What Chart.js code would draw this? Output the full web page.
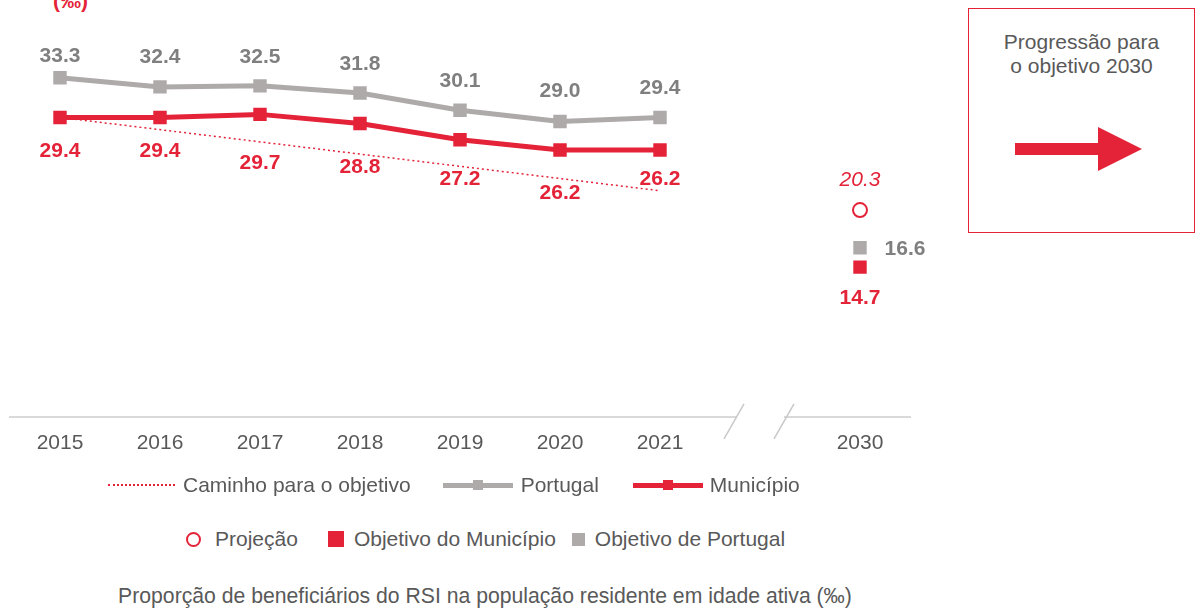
<!DOCTYPE html>
<html>
<head>
<meta charset="utf-8">
<script src="https://cdn.jsdelivr.net/npm/chart.js@4.4.1/dist/chart.umd.min.js"></script>
<style>
  body { margin: 0; width: 1196px; height: 608px; position: relative; overflow: hidden; background: #fff;
         font-family: "Liberation Sans", Arial, sans-serif; color: #595959; }
  #chart { position: absolute; left: 0; top: 0; }
  .title { position: absolute; left: 53px; top: -11px; color: #E42339; font-weight: bold; font-size: 21px; }
  .box { position: absolute; left: 968px; top: 8px; width: 225px; height: 223px; border: 1.5px solid #E42339; }
  .box .txt { position: absolute; top: 21px; left: 0; width: 100%; text-align: center; font-size: 21px; line-height: 24px; }
  .box svg { position: absolute; left: 0; top: 0; }
  .row { position: absolute; display: flex; align-items: center; font-size: 21px; white-space: nowrap; }
  .sw { display: inline-block; position: relative; }
  .caption { position: absolute; left: 0; width: 970px; top: 584px; text-align: center; font-size: 21.2px; }
</style>
</head>
<body>
<div class="title">(‰)</div>
<canvas id="chart" width="940" height="478"></canvas>

<div class="box">
  <div class="txt">Progressão para<br>o objetivo 2030</div>
  <svg width="226" height="224">
    <polygon points="46,134 129,134 129,118 173,140 129,162 129,146 46,146" fill="#E42339"/>
  </svg>
</div>

<div class="row" style="left:108px; top:473px;">
  <span class="sw" style="width:67px;height:0;border-top:2px dotted #E42339;margin-right:8px;"></span>
  <span>Caminho para o objetivo</span>
  <span class="sw" style="width:70px;height:5px;background:#AEAAAA;margin:0 8px 0 32px;">
    <span style="position:absolute;left:30px;top:-3px;width:10px;height:10px;background:#AEAAAA;"></span></span>
  <span>Portugal</span>
  <span class="sw" style="width:70px;height:5px;background:#E42339;margin:0 7px 0 34px;">
    <span style="position:absolute;left:30px;top:-3px;width:10px;height:10px;background:#E42339;"></span></span>
  <span>Município</span>
</div>

<div class="row" style="left:186px; top:527px;">
  <span class="sw" style="width:11px;height:11px;border:2px solid #E42339;border-radius:50%;margin-right:14px;"></span>
  <span>Projeção</span>
  <span class="sw" style="width:16px;height:16px;background:#E42339;margin:0 10px 0 30px;"></span>
  <span>Objetivo do Município</span>
  <span class="sw" style="width:13px;height:13px;background:#AEAAAA;margin:0 10px 0 16px;"></span>
  <span>Objetivo de Portugal</span>
</div>

<div class="caption">Proporção de beneficiários do RSI na população residente em idade ativa (‰)</div>

<script>
const RED = '#E42339';
const GRAY = '#AEAAAA';
const GRAY_TEXT = '#7F7F7F';

// categories (empty slot = axis break before 2030)
const years = ['2015', '2016', '2017', '2018', '2019', '2020', '2021', '', '2030'];

const portugal  = [33.3, 32.4, 32.5, 31.8, 30.1, 29.0, 29.4, null, null];
const municipio = [29.4, 29.4, 29.7, 28.8, 27.2, 26.2, 26.2, null, null];
const caminho   = [29.4, null, null, null, null, null, 22.2, null, null];
const projecao          = [null, null, null, null, null, null, null, null, 20.3];
const objetivoPortugal  = [null, null, null, null, null, null, null, null, 16.6];
const objetivoMunicipio = [null, null, null, null, null, null, null, null, 14.7];

// label offsets (px) from each point
const portugalLabelDy  = [-22, -30, -29, -29, -29, -30, -29];
const municipioLabelDy = [34, 34, 49, 44, 39, 43, 29];

const FONT = '"Liberation Sans", Arial, sans-serif';

const pointLabels = {
  id: 'pointLabels',
  afterDatasetsDraw(chart) {
    const ctx = chart.ctx;
    chart.data.datasets.forEach((ds, i) => {
      const lab = ds.pointLabel;
      if (!lab) return;
      chart.getDatasetMeta(i).data.forEach((pt, j) => {
        const v = ds.data[j];
        if (v == null) return;
        const dx = Array.isArray(lab.dx) ? lab.dx[j] : (lab.dx || 0);
        const dy = Array.isArray(lab.dy) ? lab.dy[j] : (lab.dy || 0);
        ctx.save();
        ctx.font = lab.font;
        ctx.fillStyle = lab.color;
        ctx.textAlign = 'center';
        ctx.textBaseline = 'middle';
        ctx.fillText(v.toFixed(1), pt.x + dx, pt.y + dy);
        ctx.restore();
      });
    });
  }
};

// gap in the x axis with two slashes
const axisBreak = {
  id: 'axisBreak',
  afterDraw(chart) {
    const ctx = chart.ctx;
    const x = chart.scales.x;
    const xm = x.getPixelForValue(7);
    const y = chart.chartArea.bottom;
    ctx.save();
    ctx.fillStyle = '#fff';
    ctx.fillRect(xm - 24, y - 3, 48, 6);
    ctx.strokeStyle = '#C8C8C8';
    ctx.lineWidth = 1.5;
    [-26, 24].forEach(off => {
      ctx.beginPath();
      ctx.moveTo(xm + off + 10, y - 13);
      ctx.lineTo(xm + off - 10, y + 22);
      ctx.stroke();
    });
    ctx.restore();
  }
};

new Chart(document.getElementById('chart').getContext('2d'), {
  type: 'line',
  data: {
    labels: years,
    datasets: [
      {
        label: 'Caminho para o objetivo',
        data: caminho,
        borderColor: RED,
        borderWidth: 1.5,
        borderDash: [2, 3],
        pointRadius: 0,
        spanGaps: true,
        order: 3
      },
      {
        label: 'Portugal',
        data: portugal,
        borderColor: GRAY,
        borderWidth: 5,
        pointStyle: 'rect',
        pointRadius: 9.5,
        pointBorderWidth: 0,
        pointBackgroundColor: GRAY,
        pointLabel: { color: GRAY_TEXT, font: 'bold 21px ' + FONT, dy: portugalLabelDy },
        order: 2
      },
      {
        label: 'Município',
        data: municipio,
        borderColor: RED,
        borderWidth: 5,
        pointStyle: 'rect',
        pointRadius: 9.5,
        pointBorderWidth: 0,
        pointBackgroundColor: RED,
        pointLabel: { color: RED, font: 'bold 21px ' + FONT, dy: municipioLabelDy },
        order: 1
      },
      {
        label: 'Projeção',
        data: projecao,
        showLine: false,
        pointStyle: 'circle',
        pointRadius: 7,
        pointBorderWidth: 2,
        pointBorderColor: RED,
        pointBackgroundColor: '#fff',
        pointLabel: { color: RED, font: 'italic 21px ' + FONT, dy: -30 }
      },
      {
        label: 'Objetivo de Portugal',
        data: objetivoPortugal,
        showLine: false,
        pointStyle: 'rect',
        pointRadius: 9.5,
        pointBorderWidth: 0,
        pointBackgroundColor: GRAY,
        pointLabel: { color: GRAY_TEXT, font: 'bold 21px ' + FONT, dx: 45, dy: 1 }
      },
      {
        label: 'Objetivo do Município',
        data: objetivoMunicipio,
        showLine: false,
        pointStyle: 'rect',
        pointRadius: 9.5,
        pointBorderWidth: 0,
        pointBackgroundColor: RED,
        pointLabel: { color: RED, font: 'bold 21px ' + FONT, dy: 31 }
      }
    ]
  },
  options: {
    responsive: false,
    animation: false,
    devicePixelRatio: 1,
    layout: { padding: { left: 10, right: 30, top: 8, bottom: 8 } },
    elements: { line: { tension: 0 } },
    plugins: {
      legend: { display: false },
      tooltip: { enabled: false }
    },
    scales: {
      x: {
        offset: true,
        grid: { display: false, drawTicks: false },
        border: { display: true, color: '#D9D9D9', width: 2 },
        ticks: { color: '#595959', font: { size: 21, family: FONT }, padding: 14, maxRotation: 0, autoSkip: false }
      },
      y: { display: false, min: 0, max: 40 }
    }
  },
  plugins: [pointLabels, axisBreak]
});
</script>
</body>
</html>
